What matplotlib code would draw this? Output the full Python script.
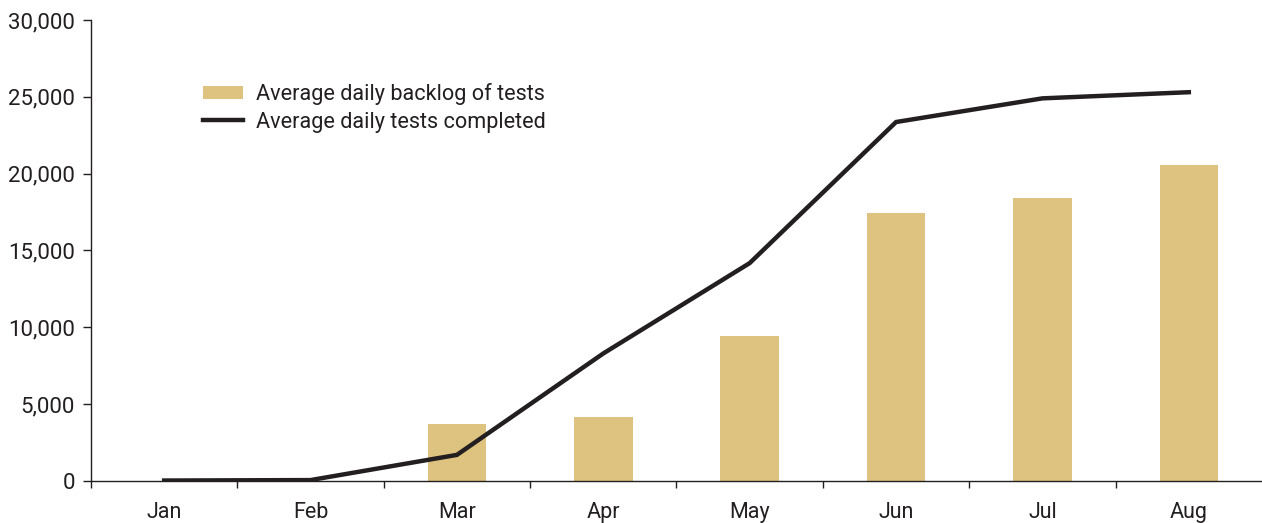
import numpy as np
import matplotlib
matplotlib.use("Agg")
import matplotlib.pyplot as plt
from matplotlib.ticker import FuncFormatter, FixedLocator

# ---------------- DATA ----------------

months = ["Jan", "Feb", "Mar", "Apr", "May", "Jun", "Jul", "Aug"]

backlog = [0, 0, 3700, 4150, 9450, 17450, 18420, 20550]

completed = [30, 60, 1700, 8300, 14180, 23360, 24900, 25300]

bar_color = "#DEC27F"
line_color = "#231F20"
text_color = "#231F20"

plt.rcParams["font.family"] = ["Roboto", "DejaVu Sans"]

# ---------------- PLOT ----------------

fig = plt.figure(figsize=(12.62, 5.23), dpi=100)
ax = fig.add_axes([0.0721, 0.0803, 0.9279, 0.8815])

x = np.arange(len(months))

bars = ax.bar(x, backlog, width=0.4, color=bar_color,
              label="Average daily backlog of tests", zorder=2)
line, = ax.plot(x, completed, color=line_color, linewidth=3.2,
                solid_joinstyle="miter", label="Average daily tests completed", zorder=3)

ax.set_xlim(-0.5, 7.5)
ax.set_ylim(0, 30000)
ax.set_yticks(np.arange(0, 30001, 5000))
ax.yaxis.set_major_formatter(FuncFormatter(lambda v, p: f"{int(v):,}"))

ax.set_xticks(x)
ax.set_xticklabels(months)
ax.tick_params(axis="x", which="major", length=0, pad=15, labelsize=15.5,
               labelcolor=text_color)
ax.xaxis.set_minor_locator(FixedLocator(np.arange(-0.5, 7, 1)))
ax.tick_params(axis="x", which="minor", length=5, width=1, color=text_color)
ax.tick_params(axis="y", length=6, width=1, labelsize=16, pad=5.5,
               colors=text_color)

for s in ["top", "right"]:
    ax.spines[s].set_visible(False)
for s in ["left", "bottom"]:
    ax.spines[s].set_linewidth(1)
    ax.spines[s].set_color(text_color)

leg = ax.legend([bars, line],
                ["Average daily backlog of tests", "Average daily tests completed"],
                loc="upper left", bbox_to_anchor=(0.088, 0.882), frameon=False,
                fontsize=15.6, handlelength=1.85, handleheight=0.6,
                labelspacing=0.3, handletextpad=0.62, borderaxespad=0)
for t in leg.get_texts():
    t.set_color(text_color)

fig.savefig("out.png", dpi=100)
